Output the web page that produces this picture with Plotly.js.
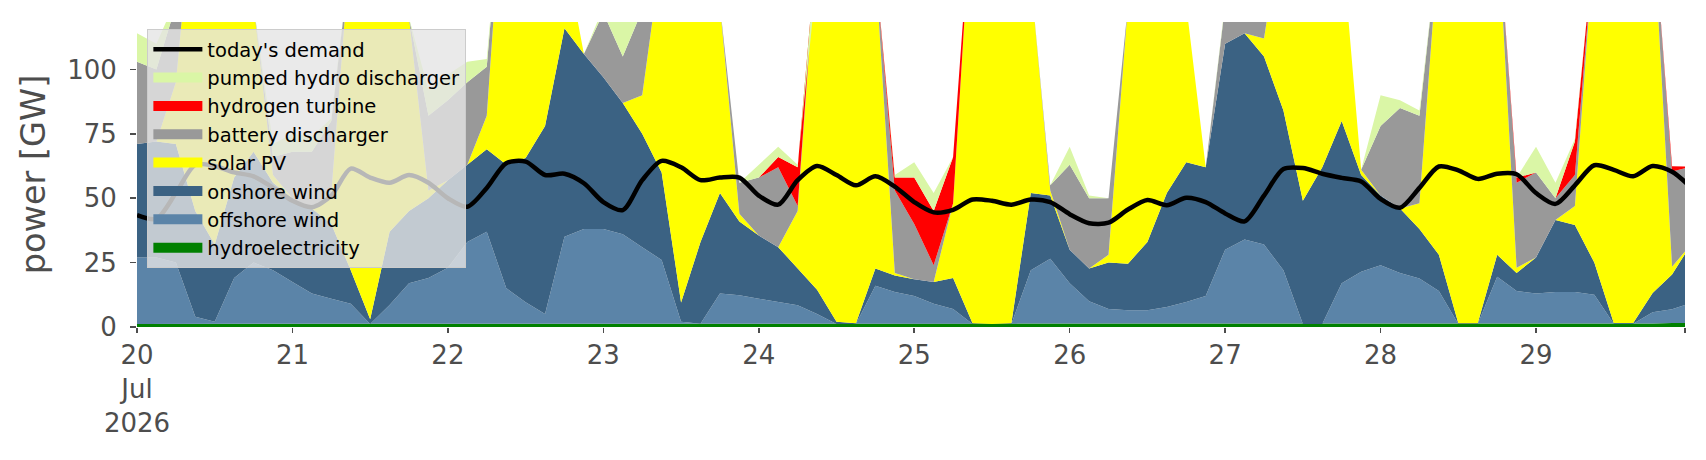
<!DOCTYPE html>
<html>
<head>
<meta charset="utf-8">
<script src="https://cdn.plot.ly/plotly-3.0.1.min.js"></script>
<style>html,body{margin:0;padding:0;background:#fff;}#chart{width:1706px;height:460px;}</style>
</head>
<body>
<div id="chart"></div>
<script>
// 3-hourly samples starting 2026-07-20 00:00
const startDate = '2026-07-20T00:00:00Z';
const stepHours = 3;

const hydro = [1.2,1.2,1.2,1.2,1.2,1.2,1.2,1.2,1.2,1.2,
  1.2,1.2,1.2,1.2,1.2,1.2,1.2,1.2,1.2,1.3,
  1.3,1.2,1.2,1.2,1.2,1.2,1.2,1.2,1.2,1.2,
  1.2,1.2,1.2,1.2,1.2,1.2,1.2,1.2,1.2,1.2,
  1.2,1.2,1.2,1.2,1.2,1.2,1.2,1.2,1.2,1.2,
  1.2,1.2,1.2,1.2,1.2,1.2,1.2,1.2,1.2,1.2,
  1.2,1.2,1.2,1.2,1.2,1.2,1.2,1.2,1.2,1.2,
  1.2,1.2,1.2,1.2,1.2,1.2,1.3,1.3,1.4,1.6,
  1.5];
const offshore = [25.8,25.8,23.8,2.8,0.8,17.8,23.8,20.8,16.3,11.8,
  9.8,7.8,0,7.3,15.8,17.8,21.8,31.8,35.8,13.8,
  8.3,3.8,33.8,36.8,36.8,34.8,29.8,24.8,0.8,0.1,
  11.8,11.1,9.8,8.5,7.2,3.8,0,0,14.8,12.4,
  10.8,7.8,5.8,0,0,0,20.8,25.3,15.8,8.8,
  5.8,5.3,5.3,6.6,8.5,10.8,28.8,32.8,30.8,20.8,
  0,0,15.8,20.2,22.8,19.8,17.6,12.8,0,0,
  18.3,12.8,11.8,12.4,12.4,11.3,0,0,4.3,5.3,
  7.8];
const onshore = [44,45,46,41,30,39,43,34,32.5,33,
  29,13,1.8,28.5,28,31,34,30,32,48,
  56,73,81,68,59,51,44,34,7.5,31.7,
  39,28.7,24.5,21.3,14.3,9.5,0.8,0.3,6.7,6.4,
  6.5,8.5,12,0.3,0,0.3,30,24.5,13,12.7,
  18,18.1,26.5,44.2,54.3,50,80,80,73,62,
  47.8,60.8,63,37.6,27,25,19.2,14,0.3,0.3,
  8.5,7,14,27.9,26,12.5,0.3,0.3,7.5,13.5,
  23];
const solar = [0,0,24,130,168,127,57,3,0,0,
  12,128,207,163,75,3,0,0,13,127,
  134.5,92,30,0,0,0,15,90,190.5,177,
  73,3,0,0,22.3,135.5,208,198.5,117.3,1,
  0,0,29,168.5,209,188.5,83,2,0,0,
  3,100.4,137,108,61,0,0,0,7,76,
  141,138,70,2,0,0,10,122,198.5,208.5,
  132,2,0,0,7.4,125,208.5,198.5,147,3,
  0];
const battery = [32,28,30,0,0,0,0,7,18,22,
  28,0,0,0,0,29,31,32,19,0,
  0,0,0,0,25,18,33,0,0,0,
  0,12,22.5,31,2,0,0,0,0,32,
  21.5,6.5,0,0,0,0,0,2,33,27.3,
  22,0,0,0,0,0,15,16,13,0,
  0,0,0,0,27,39,34,0,0,0,
  0,33,33,8.5,12,0,0,0,0,37,
  30];
const hydrogen = [0,0,0,0,0,0,0,0,0,0,
  0,0,0,0,0,0,0,0,0,0,
  0,0,0,0,0,0,0,0,0,0,
  0,0,0,4,15,0,0,0,0,5,
  18,21,18,0,0,0,0,0,0,0,
  0,0,0,0,0,0,0,0,0,0,
  0,0,0,0,0,0,0,0,0,0,
  0,2,0,0,13,0,0,0,0,2,
  0];
const pumpedHydro = [11,10,2,0,0,0,0,5,7,6,
  1,0,0,0,0,10,10,8,3,0,
  0,0,0,0,2,17,1,0,0,0,
  0,0,5,4,1,0,0,0,0,1,
  6,7,0,0,0,0,0,0,7,1,
  0,0,0,0,0,0,1,1,1,0,
  0,0,0,0,12,3,2,0,0,0,
  0,0,10,6,1,0,0,0,0,0,
  0];
const demand = [43.4,42,52,63,62.5,60,58.5,54,49,46.5,
  51,61.5,58,56,59,56,50,46.7,54,63.6,
  64.2,59,59.5,55.8,48.5,45.4,57,64.5,62,57,
  58,58,51,47.5,57,62.5,59,55,58.5,54.5,
  48.5,44.5,45.5,49.5,49,47.5,49.5,48.5,43.8,40.3,
  40.5,45.6,49.3,47.3,50.2,48.5,44.1,41,51,61.3,
  61.7,59.5,57.9,56.5,49.7,46.3,54,62.3,60.8,57.5,
  59.5,59.3,52,47.8,55,62.8,61,58.5,62.5,60.3,
  54];

const seriesNames = ['hydroelectricity','offshore wind','onshore wind','solar PV',
  'battery discharger','hydrogen turbine','pumped hydro discharger'];
const seriesColors = ['#008000','#5b84a8','#3b6283','#ffff00','#999999','#ff0000','#daf6a6'];
const seriesValues = [hydro, offshore, onshore, solar, battery, hydrogen, pumpedHydro];

const tickDays = ['2026-07-20','2026-07-21','2026-07-22','2026-07-23','2026-07-24',
  '2026-07-25','2026-07-26','2026-07-27','2026-07-28','2026-07-29','2026-07-29 23:00'];
const tickLabels = ['20<br>Jul<br>2026','21','22','23','24','25','26','27','28','29',''];
const xStart = '2026-07-20 00:00';
const xEnd = '2026-07-29 23:00';

const t0 = Date.parse(startDate);
const times = demand.map((_, i) => new Date(t0 + i * stepHours * 3600000).toISOString().slice(0, 16).replace('T', ' '));

const traces = [];
// stacked areas (drawn, not in legend)
seriesValues.forEach((vals, k) => {
  traces.push({
    type: 'scatter', mode: 'lines', name: seriesNames[k], x: times, y: vals,
    stackgroup: 'supply', line: {width: 0, color: seriesColors[k]}, fillcolor: seriesColors[k],
    showlegend: false, hoverinfo: 'skip'
  });
});
// demand line
traces.push({type: 'scatter', mode: 'lines', name: "today's demand", x: times, y: demand,
  line: {color: '#000000', width: 4.5, shape: 'spline', smoothing: 0.8}, hoverinfo: 'skip'});
// legend patches (top of stack first)
for (let k = seriesNames.length - 1; k >= 0; k--) {
  traces.push({type: 'scatter', mode: 'lines', name: seriesNames[k], x: [null], y: [null],
    line: {color: seriesColors[k], width: 14}, hoverinfo: 'skip'});
}

const layout = {
  width: 1706, height: 460,
  margin: {l: 137, r: 21, t: 22, b: 133},
  paper_bgcolor: '#ffffff', plot_bgcolor: '#ffffff',
  font: {family: 'DejaVu Sans, sans-serif', color: '#4d4d4d'},
  showlegend: true,
  legend: {
    x: 0.0067, y: 0.977, xanchor: 'left', yanchor: 'top',
    bgcolor: 'rgba(229,229,229,0.8)', bordercolor: '#cccccc', borderwidth: 1,
    font: {family: 'DejaVu Sans, sans-serif', size: 19.5, color: '#000000'},
    traceorder: 'normal', itemwidth: 49
  },
  xaxis: {
    type: 'date', range: [xStart, xEnd],
    tickmode: 'array', tickvals: tickDays, ticktext: tickLabels,
    ticks: 'outside', ticklen: 5, tickwidth: 1.5, tickcolor: '#4d4d4d',
    tickfont: {size: 26, color: '#4d4d4d'},
    showgrid: false, zeroline: false, showline: false
  },
  yaxis: {
    range: [0, 118.4], tickmode: 'array', tickvals: [0, 25, 50, 75, 100],
    ticks: 'outside', ticklen: 6, tickwidth: 1.5, tickcolor: '#4d4d4d',
    tickfont: {size: 26, color: '#4d4d4d'}, ticklabelstandoff: 8,
    showgrid: false, zeroline: false, showline: false,
    title: {text: 'power [GW]', font: {size: 33.5, color: '#4d4d4d'}, standoff: 11}
  }
};

Plotly.newPlot('chart', traces, layout, {displayModeBar: false, staticPlot: true});
</script>
</body>
</html>
